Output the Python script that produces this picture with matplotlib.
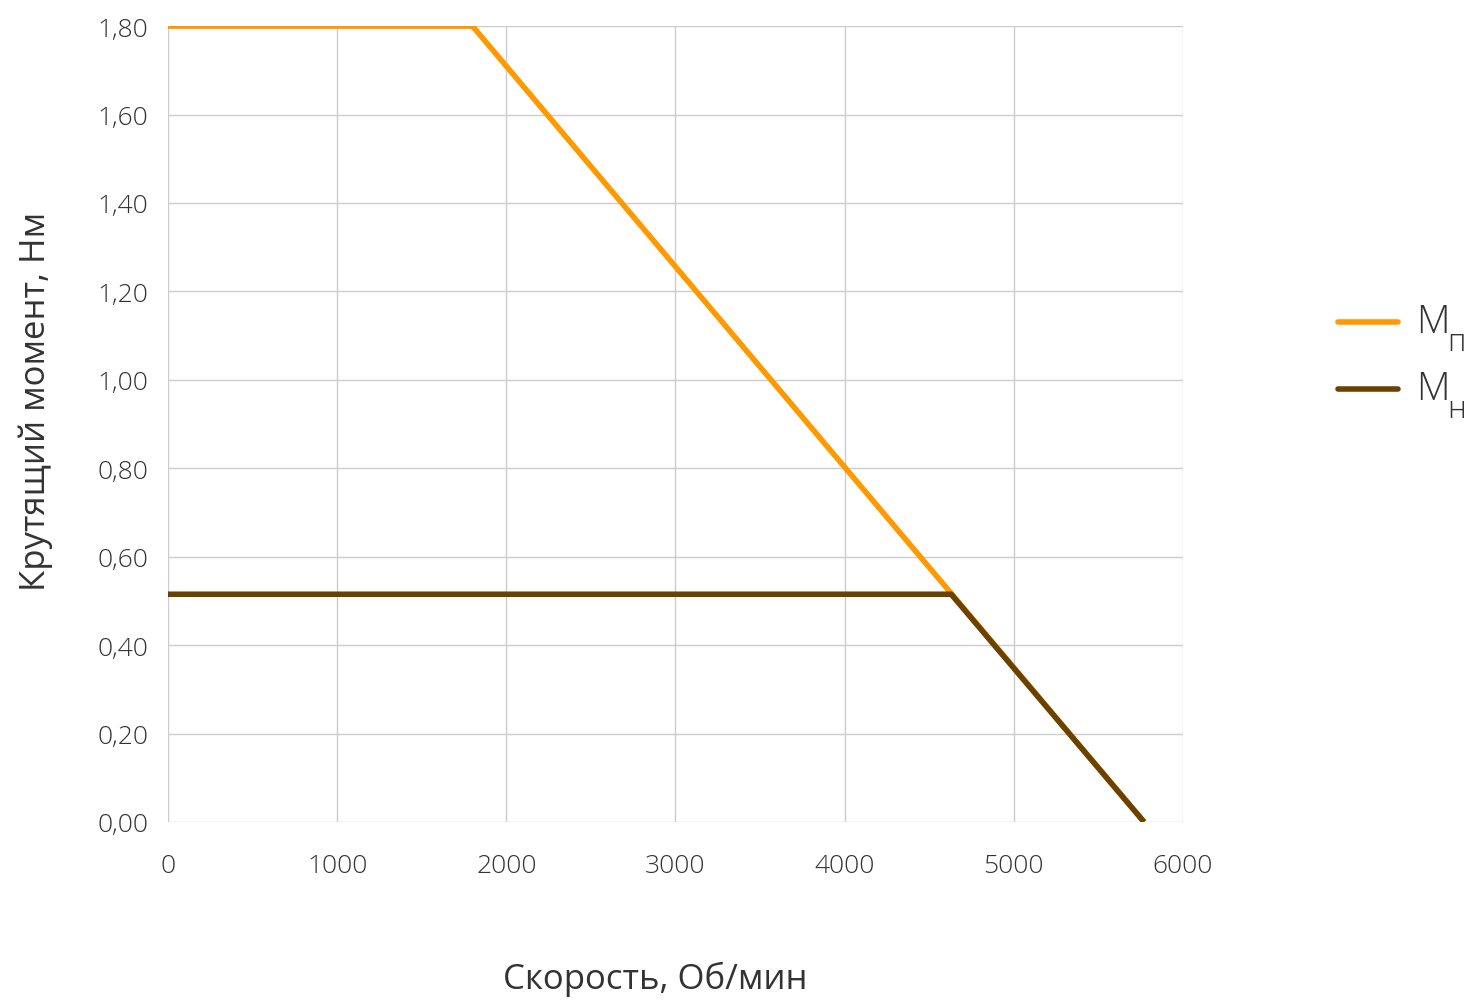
import matplotlib.pyplot as plt
from matplotlib.lines import Line2D

plt.rcParams['font.family'] = ['Open Sans', 'DejaVu Sans']
plt.rcParams['font.weight'] = 'light'

# данные
speed_mp = [0, 1800, 5770]
torque_mp = [1.80, 1.80, 0.0]
speed_mn = [0, 4630, 5770]
torque_mn = [0.515, 0.515, 0.0]

x_ticks = [0, 1000, 2000, 3000, 4000, 5000, 6000]
y_ticks = [0.0, 0.2, 0.4, 0.6, 0.8, 1.0, 1.2, 1.4, 1.6, 1.8]

c_orange = '#FF9900'
c_brown = '#6B4100'
txt = '#333333'

fig = plt.figure(figsize=(14.75, 10.03), dpi=100)
ax = fig.add_axes([0.1139, 0.1795, 0.6881, 0.7935])

ax.plot(speed_mp, torque_mp, color=c_orange, lw=4, solid_capstyle='butt', zorder=3)
ax.plot(speed_mn, torque_mn, color=c_brown, lw=4, solid_capstyle='butt', zorder=4)

ax.set_xlim(0, 6000)
ax.set_ylim(0, 1.8)
ax.set_xticks(x_ticks)
ax.set_yticks(y_ticks)
ax.set_yticklabels([f'{v:.2f}'.replace('.', ',') for v in y_ticks])
ax.grid(True, color='#cccccc', lw=1)
ax.set_axisbelow(True)
for s in ax.spines.values():
    s.set_visible(False)
ax.tick_params(length=0, labelsize=19, colors=txt, pad=14)
ax.tick_params(axis='x', pad=22)

ax.set_xlabel('Скорость, Об/мин', fontsize=25, color=txt, va='center')
ax.xaxis.set_label_coords(0.48, -0.197)
ax.set_ylabel('Крутящий момент, Нм', fontsize=25, color=txt)
ax.yaxis.set_label_coords(-0.113, 0.53)

# легенда
for yy, col, sub in [(0.678, c_orange, 'п'), (0.611, c_brown, 'н')]:
    fig.add_artist(Line2D([0.907, 0.948], [yy, yy], color=col, lw=4,
                          solid_capstyle='round', transform=fig.transFigure))
    fig.text(0.960, yy, 'М', fontsize=28, color=txt, va='center', ha='left')
    fig.text(0.981, yy - 0.020, sub, fontsize=22, color=txt, va='center', ha='left')

fig.savefig('out.png', dpi=100)
